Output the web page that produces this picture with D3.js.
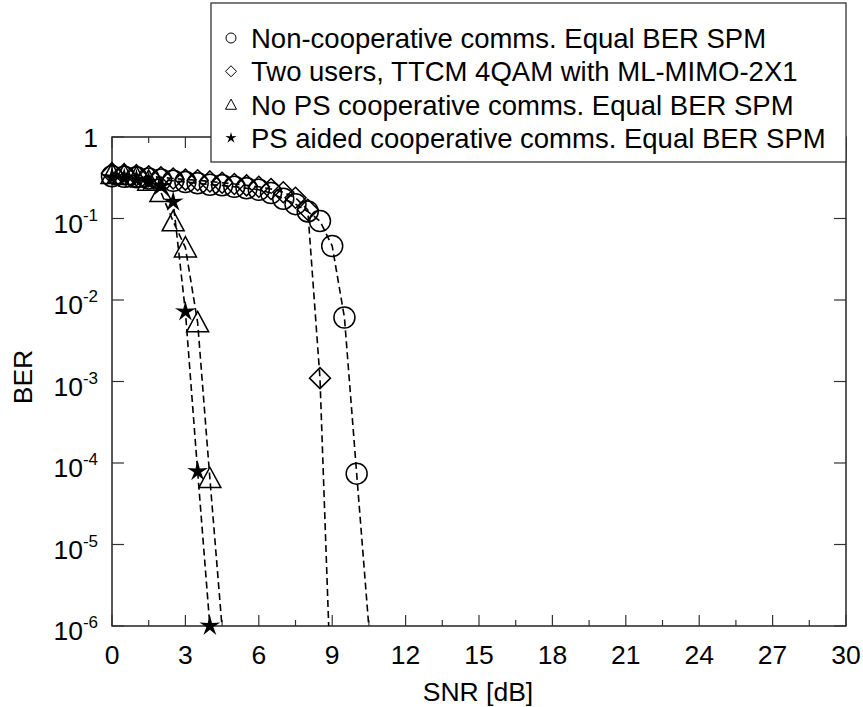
<!DOCTYPE html>
<html>
<head>
<meta charset="utf-8">
<script src="https://cdn.jsdelivr.net/npm/d3@7/dist/d3.min.js"></script>
<style>
  html, body { margin: 0; padding: 0; background: #fff; }
  svg { display: block; font-family: "Liberation Sans", Arial, Helvetica, sans-serif; }
</style>
</head>
<body>
<svg id="chart" width="863" height="707"></svg>
<script>
// BER versus SNR for four transmission schemes
const nonCoopSNR = [0,0.5,1,1.5,2,2.5,3,3.5,4,4.5,5,5.5,6,6.5,7,7.5,8,8.5,9,9.5,10,10.5];
const nonCoopBER = [0.33,0.325,0.32,0.31,0.30,0.29,0.28,0.27,0.26,0.255,0.245,0.235,0.225,0.205,0.175,0.15,0.122,0.093,0.046,0.0061,7.4e-5,9.5e-7];

const twoUsersSNR = [0,0.5,1,1.5,2,2.5,3,3.5,4,4.5,5,5.5,6,6.5,7,7.5,8,8.5,9];
const twoUsersBER = [0.36,0.35,0.34,0.33,0.32,0.31,0.30,0.295,0.285,0.275,0.265,0.255,0.245,0.23,0.21,0.18,0.128,1.1e-3,6e-8];

const noPsSNR = [0,0.5,1,1.5,2,2.5,3,3.5,4,4.5];
const noPsBER = [0.35,0.34,0.32,0.29,0.21,0.092,0.044,0.0053,6.5e-5,9.5e-7];

const psSNR = [0,0.5,1,1.5,2,2.5,3,3.5,4];
const psBER = [0.32,0.31,0.30,0.28,0.25,0.16,0.0072,7.9e-5,1e-6];

const seriesNames = [
  "Non-cooperative comms. Equal BER SPM",
  "Two users, TTCM 4QAM with ML-MIMO-2X1",
  "No PS cooperative comms. Equal BER SPM",
  "PS aided cooperative comms. Equal BER SPM"
];
const seriesMarkers = ["circle", "diamond", "triangle", "star"];

const xTicks = [0,3,6,9,12,15,18,21,24,27,30];
const xMinorTicks = [1.5,4.5,7.5,10.5,13.5,16.5,19.5,22.5,25.5,28.5];
const yTickExps = [0,-1,-2,-3,-4,-5,-6];

const series = [
  { snr: nonCoopSNR, ber: nonCoopBER },
  { snr: twoUsersSNR, ber: twoUsersBER },
  { snr: noPsSNR, ber: noPsBER },
  { snr: psSNR, ber: psBER }
].map((s, i) => ({
  name: seriesNames[i],
  marker: seriesMarkers[i],
  points: s.snr.map((v, j) => ({ x: v, y: s.ber[j] }))
}));

const svg = d3.select("#chart");
const plotL = 112, plotR = 846, plotT = 137, plotB = 626;

const x = d3.scaleLinear().domain([0, 30]).range([plotL, plotR]);
const y = d3.scaleLog().domain([1e-6, 1]).range([plotB, plotT]);

// marker shapes, sized in px
function markerPath(type, s) {
  const p = d3.path();
  if (type === "circle") {
    p.arc(0, 0, s, 0, 2 * Math.PI);
  } else if (type === "diamond") {
    p.moveTo(0, -s); p.lineTo(s, 0); p.lineTo(0, s); p.lineTo(-s, 0); p.closePath();
  } else if (type === "triangle") {
    p.moveTo(0, -s); p.lineTo(s, s * 0.85); p.lineTo(-s, s * 0.85); p.closePath();
  } else if (type === "star") {
    const inner = s * 0.33;
    for (let k = 0; k < 10; k++) {
      const r = k % 2 === 0 ? s : inner;
      const a = -Math.PI / 2 + k * Math.PI / 5;
      const px = r * Math.cos(a), py = r * Math.sin(a);
      if (k === 0) p.moveTo(px, py); else p.lineTo(px, py);
    }
    p.closePath();
  }
  return p.toString();
}

svg.append("defs").append("clipPath").attr("id", "plotClip")
  .append("rect").attr("x", plotL).attr("y", plotT)
  .attr("width", plotR - plotL).attr("height", plotB - plotT);

// frame
svg.append("rect")
  .attr("x", plotL).attr("y", plotT)
  .attr("width", plotR - plotL).attr("height", plotB - plotT)
  .attr("fill", "none").attr("stroke", "#000").attr("stroke-width", 1.3);

// x ticks (bottom and top), inward
const tickG = svg.append("g").attr("stroke", "#333").attr("stroke-width", 1.2);
xTicks.forEach(t => {
  tickG.append("line").attr("x1", x(t)).attr("x2", x(t)).attr("y1", plotB).attr("y2", plotB - 11);
  tickG.append("line").attr("x1", x(t)).attr("x2", x(t)).attr("y1", plotT).attr("y2", plotT + 11);
});
xMinorTicks.forEach(t => {
  tickG.append("line").attr("x1", x(t)).attr("x2", x(t)).attr("y1", plotB).attr("y2", plotB - 6);
  tickG.append("line").attr("x1", x(t)).attr("x2", x(t)).attr("y1", plotT).attr("y2", plotT + 6);
});
yTickExps.forEach(e => {
  const v = Math.pow(10, e);
  tickG.append("line").attr("x1", plotL).attr("x2", plotL + 12).attr("y1", y(v)).attr("y2", y(v));
  tickG.append("line").attr("x1", plotR).attr("x2", plotR - 12).attr("y1", y(v)).attr("y2", y(v));
});

// x tick labels
svg.append("g").selectAll("text").data(xTicks).join("text")
  .attr("x", d => x(d)).attr("y", 664)
  .attr("text-anchor", "middle").attr("font-size", 26.5).attr("fill", "#000")
  .text(d => d);

// y tick labels
const yl = svg.append("g");
yTickExps.forEach(e => {
  const v = Math.pow(10, e);
  const t = yl.append("text")
    .attr("x", 98).attr("y", y(v) + 14)
    .attr("text-anchor", "end").attr("font-size", 26.5).attr("fill", "#000");
  if (e === 0) {
    t.attr("y", y(v) + 10).text("1");
  } else {
    t.append("tspan").text("10");
    t.append("tspan").attr("font-size", 17).attr("dy", -12).text(String(e));
  }
});

// axis titles
svg.append("text").attr("x", (plotL + plotR) / 2 - 1).attr("y", 701)
  .attr("text-anchor", "middle").attr("font-size", 26.5).text("SNR [dB]");
svg.append("text").attr("transform", "translate(32,377) rotate(-90)")
  .attr("text-anchor", "middle").attr("font-size", 26.5).text("BER");

// dashed curves
const line = d3.line().x(d => x(d.x)).y(d => y(Math.max(d.y, 1e-9)));
const curves = svg.append("g").attr("clip-path", "url(#plotClip)");
series.forEach(s => {
  curves.append("path").datum(s.points)
    .attr("d", line)
    .attr("fill", "none").attr("stroke", "#000")
    .attr("stroke-width", 1.6).attr("stroke-dasharray", "7,4");
});

// markers for points inside the y range
const markerSize = { circle: 10.5, diamond: 10.5, triangle: 11, star: 11 };
series.forEach(s => {
  svg.append("g").selectAll("path")
    .data(s.points.filter(d => d.y >= 1e-6 * 0.999))
    .join("path")
    .attr("transform", d => `translate(${x(d.x)},${y(d.y)})`)
    .attr("d", markerPath(s.marker, markerSize[s.marker]))
    .attr("fill", s.marker === "star" ? "#000" : "none")
    .attr("stroke", s.marker === "star" ? "none" : "#000")
    .attr("stroke-width", 1.5);
});

// legend
const lg = svg.append("g");
lg.append("rect").attr("x", 211).attr("y", 3).attr("width", 635).attr("height", 159)
  .attr("fill", "#fff").attr("stroke", "#333").attr("stroke-width", 1.3);
const legendSmall = { circle: 5, diamond: 5.5, triangle: 5.5, star: 6 };
series.forEach((s, i) => {
  const cy = 38 + i * 33.3;
  lg.append("path")
    .attr("transform", `translate(231,${cy})`)
    .attr("d", markerPath(s.marker, legendSmall[s.marker]))
    .attr("fill", s.marker === "star" ? "#000" : "none")
    .attr("stroke", s.marker === "star" ? "none" : "#000")
    .attr("stroke-width", 1);
  lg.append("text").attr("x", 251).attr("y", cy + 10)
    .attr("font-size", 27.5).attr("fill", "#000").text(s.name);
});
</script>
</body>
</html>
